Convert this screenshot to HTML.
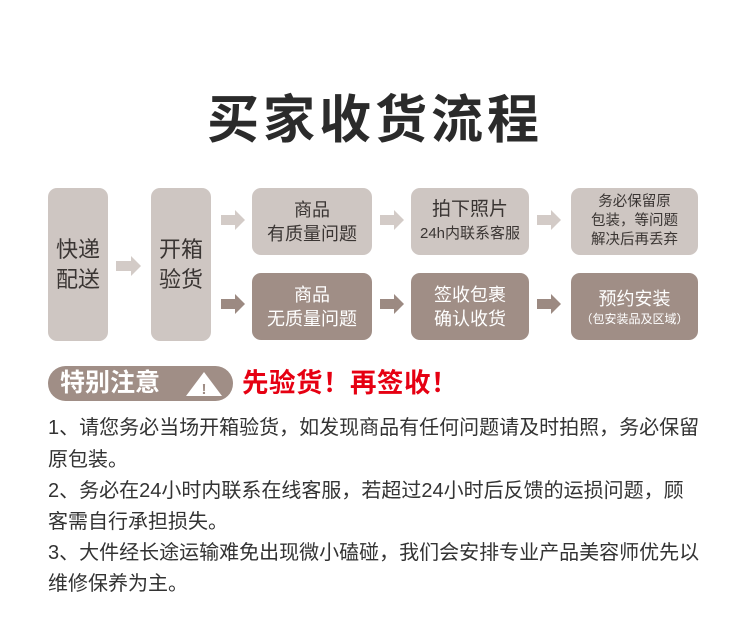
<!DOCTYPE html>
<html><head><meta charset="utf-8"><style>
body{margin:0;width:750px;height:631px;background:#fff;position:relative;overflow:hidden;font-family:"Liberation Sans","Noto Sans CJK SC",sans-serif;}
.a{position:absolute}
.b{position:absolute;border-radius:9px;display:flex;align-items:center;justify-content:center;text-align:center;flex-direction:column;}
.l{background:#cec6c2;color:#3a3533}
.d{background:#a08e86;color:#fff}
.t{position:absolute;left:48px;font-size:20px;color:#333;white-space:nowrap;line-height:24px}
</style></head><body>
<div class="a" style="left:0;width:750px;top:89px;text-align:center;font-size:52px;font-weight:bold;color:#2b2b2b;letter-spacing:4px;line-height:64px">买家收货流程</div>

<div class="b l" style="left:48px;top:188px;width:60px;height:153px;font-size:22px;line-height:30px">快递<br>配送</div>
<div class="b l" style="left:151px;top:188px;width:60px;height:153px;font-size:22px;line-height:30px">开箱<br>验货</div>
<div class="b l" style="left:252px;top:188px;width:120px;height:67px;font-size:18px;line-height:24px">商品<br>有质量问题</div>
<div class="b d" style="left:252px;top:273px;width:120px;height:67px;font-size:18px;line-height:24px">商品<br>无质量问题</div>
<div class="b l" style="left:411px;top:188px;width:118px;height:67px;line-height:24px"><span style="font-size:19px">拍下照片</span><span style="font-size:15px">24h内联系客服</span></div>
<div class="b d" style="left:411px;top:273px;width:118px;height:67px;font-size:18px;line-height:24px">签收包裹<br>确认收货</div>
<div class="b l" style="left:571px;top:188px;width:127px;height:67px;font-size:14.5px;line-height:19px">务必保留原<br>包装，等问题<br>解决后再丢弃</div>
<div class="b d" style="left:571px;top:273px;width:127px;height:67px;line-height:24px"><span style="font-size:18px">预约安装</span><span style="font-size:12px;line-height:16px">（包安装品及区域）</span></div>

<svg class="a" style="left:0;top:0" width="750" height="631">
<g fill="#d3cbc7">
<polygon points="116,261 131,261 131,256 141,266 131,276 131,271 116,271"/>
<polygon points="221,215 235,215 235,210 245,220 235,230 235,225 221,225"/>
<polygon points="380,215 394,215 394,210 404,220 394,230 394,225 380,225"/>
<polygon points="537,215 551,215 551,210 561,220 551,230 551,225 537,225"/>
</g>
<g fill="#9c8a82">
<polygon points="221,299 235,299 235,294 245,304 235,314 235,309 221,309"/>
<polygon points="380,299 394,299 394,294 404,304 394,314 394,309 380,309"/>
<polygon points="537,299 551,299 551,294 561,304 551,314 551,309 537,309"/>
</g>
</svg>

<div class="a" style="left:48px;top:366px;width:185px;height:35px;border-radius:18px;background:#a08e86"></div>
<div class="a" style="left:60px;top:366px;height:35px;line-height:35px;font-size:25px;font-weight:bold;color:#fff;white-space:nowrap">特别注意</div>
<svg class="a" style="left:184px;top:371px" width="40" height="26"><polygon points="20,1 38,25 2,25" fill="#fff"/><text x="20" y="23" font-size="15" text-anchor="middle" fill="#a08e86" font-family="Liberation Sans" font-weight="bold">!</text></svg>
<div class="a" style="left:242px;top:366px;height:35px;line-height:35px;font-size:26.5px;font-weight:bold;color:#e60012;white-space:nowrap;letter-spacing:0.5px">先验货！再签收！</div>

<div class="t" style="top:416px">1、请您务必当场开箱验货，如发现商品有任何问题请及时拍照，务必保留</div>
<div class="t" style="top:448px">原包装。</div>
<div class="t" style="top:479px">2、务必在24小时内联系在线客服，若超过24小时后反馈的运损问题，顾</div>
<div class="t" style="top:510px">客需自行承担损失。</div>
<div class="t" style="top:541px">3、大件经长途运输难免出现微小磕碰，我们会安排专业产品美容师优先以</div>
<div class="t" style="top:572px">维修保养为主。</div>
</body></html>
